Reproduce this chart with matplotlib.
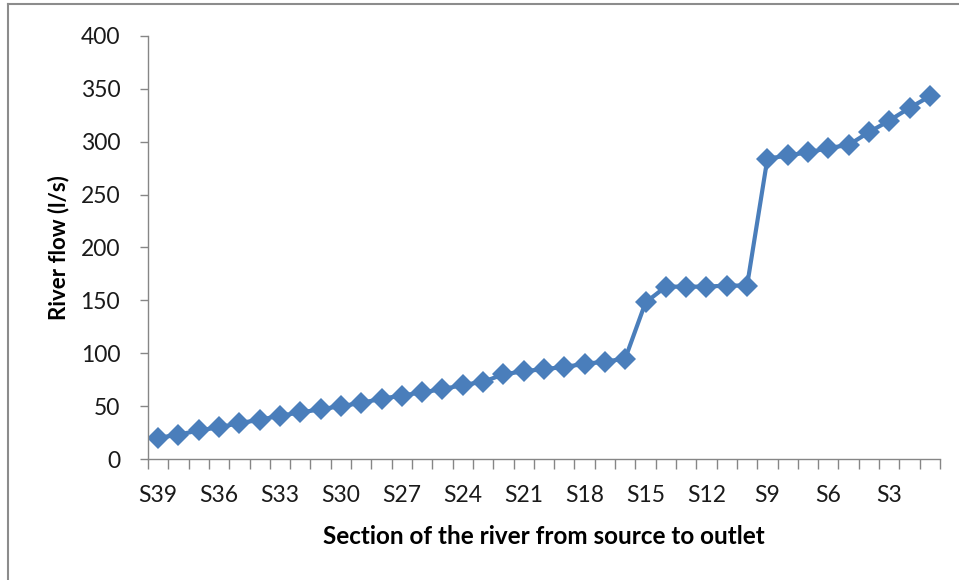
import matplotlib
matplotlib.use("Agg")
import matplotlib.pyplot as plt
from matplotlib.lines import Line2D
import numpy as np

sections = [f"S{n}" for n in range(39, 0, -1)]
flow = [20, 23, 27, 30, 34, 37, 41, 44, 47, 50, 53, 57, 60, 63, 66, 70, 73,
        80, 83, 85, 87, 90, 92, 95, 148, 163, 163, 163, 164, 164,
        284, 287, 290, 294, 297, 309, 320, 332, 343]
label_every = 3

plt.rcParams['font.family'] = ['Lato', 'DejaVu Sans']

fig = plt.figure(figsize=(9.59, 5.8), dpi=100)
ax = fig.add_axes([148/959, 1 - 459/580, (940-148)/959, (459-36)/580])

x = np.arange(len(sections))
ax.plot(x, flow, color='#4A7EBB', lw=3, marker='D', markersize=11,
        markeredgewidth=0)

ax.set_xlim(-0.5, len(sections) - 0.5)
ax.set_ylim(0, 400)
ax.set_yticks(np.arange(0, 401, 50))
ax.set_xticks(x[::label_every])
ax.set_xticklabels(sections[::label_every])
ax.set_xticks(np.arange(-0.5, len(sections), 1), minor=True)
ax.tick_params(axis='x', which='major', length=0, pad=19, labelsize=16.5, labelcolor='#1a1a1a')
ax.tick_params(axis='x', which='minor', length=7, color='#868686', width=1, direction='out')
ax.tick_params(axis='y', length=6, color='#868686', width=1, labelsize=16.5, pad=14,
               labelcolor='#1a1a1a')

for s in ['top', 'right']:
    ax.spines[s].set_visible(False)
for s in ['left', 'bottom']:
    ax.spines[s].set_color('#868686')
    ax.spines[s].set_linewidth(1)

ax.set_ylabel('River flow (l/s)', fontsize=16, fontweight='bold')
ax.set_xlabel('Section of the river from source to outlet', fontsize=17.5,
              fontweight='bold')
ax.yaxis.set_label_coords(-0.099, 0.5)
ax.xaxis.set_label_coords(0.5, -0.156)

# outer chart border (partial)
fig.add_artist(Line2D([8/959, 8/959], [0, 1 - 4/580], transform=fig.transFigure,
                      color='#8c8c8c', lw=1.5))
fig.add_artist(Line2D([8/959, 1], [1 - 4/580, 1 - 4/580], transform=fig.transFigure,
                      color='#8c8c8c', lw=1.5))

fig.savefig('out.png', dpi=100)
